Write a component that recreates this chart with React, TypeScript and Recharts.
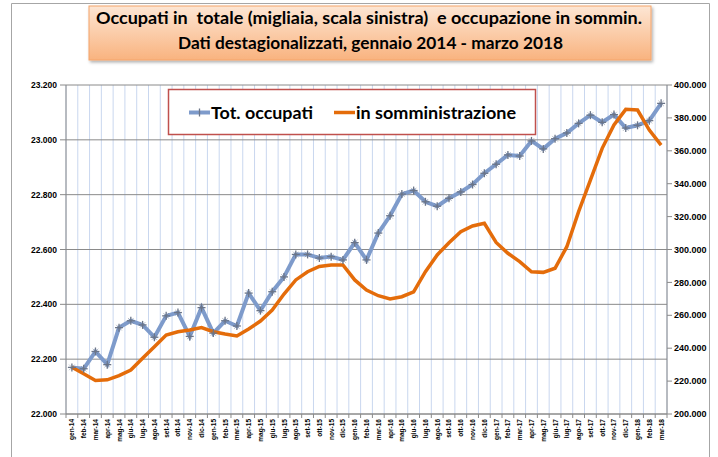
import React from 'react';
import { LineChart, Line, XAxis, YAxis, CartesianGrid } from 'recharts';

const months: string[] = [
  'gen-14', 'feb-14', 'mar-14', 'apr-14', 'mag-14', 'giu-14', 'lug-14', 'ago-14', 'set-14', 'ott-14', 'nov-14', 'dic-14',
  'gen-15', 'feb-15', 'mar-15', 'apr-15', 'mag-15', 'giu-15', 'lug-15', 'ago-15', 'set-15', 'ott-15', 'nov-15', 'dic-15',
  'gen-16', 'feb-16', 'mar-16', 'apr-16', 'mag-16', 'giu-16', 'lug-16', 'ago-16', 'set-16', 'ott-16', 'nov-16', 'dic-16',
  'gen-17', 'feb-17', 'mar-17', 'apr-17', 'mag-17', 'giu-17', 'lug-17', 'ago-17', 'set-17', 'ott-17', 'nov-17', 'dic-17',
  'gen-18', 'feb-18', 'mar-18',
];

// Occupati totali (migliaia) - scala sinistra
const totOccupati: number[] = [
  22170, 22165, 22228, 22180, 22315, 22340, 22325, 22280, 22358, 22370, 22283, 22388,
  22295, 22340, 22321, 22441, 22377, 22446, 22500, 22582, 22582, 22569, 22574, 22562,
  22625, 22562, 22660, 22723, 22802, 22815, 22774, 22758, 22787, 22810, 22837, 22878,
  22911, 22945, 22941, 22996, 22967, 23004, 23025, 23060, 23090, 23064, 23092, 23043,
  23053, 23070, 23133,
];

// Occupati in somministrazione - scala destra
const somministrazione: number[] = [
  228400, 224500, 220400, 220800, 223300, 226700, 233900, 240900, 248000, 250000, 251100, 252500,
  250000, 248600, 247400, 251700, 256500, 263200, 272900, 281500, 286500, 289700, 290600, 290600,
  281500, 275400, 271900, 269900, 271300, 274300, 286500, 296700, 304100, 310800, 314300, 315900,
  304300, 297700, 292600, 286500, 286100, 288600, 301700, 323000, 342200, 361500, 375700, 385200,
  384800, 372600, 363500,
];

const leftTicks: number[] = [22000, 22200, 22400, 22600, 22800, 23000, 23200];
const rightTicks: number[] = [200000, 220000, 240000, 260000, 280000, 300000, 320000, 340000, 360000, 380000, 400000];

const titleLine1 = 'Occupati in  totale (migliaia, scala sinistra)  e occupazione in sommin.';
const titleLine2 = 'Dati destagionalizzati, gennaio 2014 - marzo 2018';
const legendTot = 'Tot. occupati';
const legendSomm = 'in somministrazione';

const data = months.map((m, i) => ({ month: m, tot: totOccupati[i], somm: somministrazione[i] }));

const W = 718;
const H = 457;
const LEFT_W = 66;
const RIGHT_W = 51;
const TOP = 85;
const XAXIS_H = 43;
const PLOT_W = W - LEFT_W - RIGHT_W;
const N = months.length;
const STEP = PLOT_W / N;

const fmt = (v: number) => String(v).replace(/\B(?=(\d{3})+(?!\d))/g, '.');

const GRAY = '#8a8a8a';
const BLUE = '#7E9BCB';
const ORANGE = '#E46C0A';
const tickFont = "'Liberation Sans', Arial, sans-serif";
const titleFont = "Lato, 'Open Sans', sans-serif";

const XTick = (props: any) => {
  const { x, y, payload, index } = props;
  return (
    <g>
      <line x1={x - STEP / 2} x2={x - STEP / 2} y1={y - 4} y2={y} stroke={GRAY} strokeWidth={1} />
      {index === N - 1 && (
        <line x1={x + STEP / 2} x2={x + STEP / 2} y1={y - 4} y2={y} stroke={GRAY} strokeWidth={1} />
      )}
      <text
        x={x}
        y={y + 1}
        transform={`rotate(-90, ${x}, ${y + 1})`}
        textAnchor="end"
        dominantBaseline="central"
        fontSize={6.5}
        fontWeight="bold"
        fontFamily={tickFont}
        fill="#000"
      >
        {payload.value}
      </text>
    </g>
  );
};

const StarDot = (props: any) => {
  const { cx, cy } = props;
  if (cx == null || cy == null) return null;
  return (
    <g>
      <line x1={cx - 4} x2={cx + 4} y1={cy} y2={cy} stroke="#6b7588" strokeWidth={1.3} />
      <line x1={cx} x2={cx} y1={cy - 4} y2={cy + 4} stroke="#6b7588" strokeWidth={1.3} />
      <line x1={cx - 2.8} x2={cx + 2.8} y1={cy - 2.8} y2={cy + 2.8} stroke="#6b7588" strokeWidth={0.8} opacity={0.6} />
      <line x1={cx - 2.8} x2={cx + 2.8} y1={cy + 2.8} y2={cy - 2.8} stroke="#6b7588" strokeWidth={0.8} opacity={0.6} />
    </g>
  );
};

const vGen = (p: any) => {
  const off = p && p.offset ? p.offset : { left: LEFT_W, width: PLOT_W };
  const arr: number[] = [];
  for (let k = 0; k <= N; k++) arr.push(off.left + (k * off.width) / N);
  return arr;
};

export default function App() {
  return (
    <div style={{ position: 'absolute', left: 0, top: 0, width: W, height: H, background: '#fff', overflow: 'hidden' }}>
      <LineChart width={W} height={H} data={data} margin={{ top: TOP, right: 0, bottom: 0, left: 0 }}>
        <CartesianGrid
          yAxisId="left"
          horizontal={false}
          vertical={true}
          stroke="#c9d7ef"
          strokeWidth={1}
          verticalCoordinatesGenerator={vGen}
        />
        <CartesianGrid yAxisId="left" horizontal={true} vertical={false} stroke={GRAY} strokeWidth={1} />
        <XAxis
          dataKey="month"
          interval={0}
          height={XAXIS_H}
          padding={{ left: STEP / 2, right: STEP / 2 }}
          axisLine={{ stroke: GRAY }}
          tickLine={false}
          tickSize={4}
          tickMargin={0}
          tick={<XTick />}
        />
        <YAxis
          yAxisId="left"
          width={LEFT_W}
          domain={[22000, 23200]}
          ticks={leftTicks}
          tickFormatter={fmt}
          axisLine={{ stroke: GRAY }}
          tickLine={{ stroke: GRAY }}
          tickSize={6}
          tickMargin={3}
          tick={{ fontSize: 8.5, fontWeight: 'bold', fill: '#000', fontFamily: tickFont }}
          interval={0}
        />
        <YAxis
          yAxisId="right"
          orientation="right"
          width={RIGHT_W}
          domain={[200000, 400000]}
          ticks={rightTicks}
          tickFormatter={fmt}
          axisLine={{ stroke: GRAY }}
          tickLine={{ stroke: GRAY }}
          tickSize={5}
          tickMargin={2}
          tick={{ fontSize: 9, fontWeight: 'bold', fill: '#000', fontFamily: tickFont }}
          interval={0}
        />
        <Line
          yAxisId="left"
          dataKey="tot"
          type="linear"
          stroke={BLUE}
          strokeWidth={4}
          dot={<StarDot />}
          activeDot={false}
          isAnimationActive={false}
        />
        <Line
          yAxisId="right"
          dataKey="somm"
          type="linear"
          stroke={ORANGE}
          strokeWidth={3.5}
          dot={false}
          activeDot={false}
          isAnimationActive={false}
        />
      </LineChart>
      <svg width={W} height={H} style={{ position: 'absolute', left: 0, top: 0, pointerEvents: 'none' }}>
        <defs>
          <linearGradient id="titleGrad" x1="0" y1="0" x2="0" y2="1">
            <stop offset="0%" stopColor="#fde6d4" />
            <stop offset="100%" stopColor="#f9b37f" />
          </linearGradient>
          <filter id="shadow" x="-5%" y="-20%" width="110%" height="150%">
            <feDropShadow dx="1.5" dy="2" stdDeviation="1.5" floodColor="#000" floodOpacity="0.3" />
          </filter>
        </defs>
        {/* outer frame */}
        <path d={`M11.5 ${H} L11.5 3.5 L709.5 3.5 L709.5 ${H}`} fill="none" stroke="#a6a6a6" strokeWidth={1} />
        {/* title */}
        <rect x={89} y={6} width={562} height={54} fill="url(#titleGrad)" stroke="#f4a46a" strokeWidth={1} filter="url(#shadow)" />
        <text x={96} y={24} fontFamily={titleFont} fontWeight="bold" fontSize={17} fill="#000" textLength={546} lengthAdjust="spacingAndGlyphs" style={{ whiteSpace: 'pre' }}>
          {titleLine1}
        </text>
        <text x={178} y={49} fontFamily={titleFont} fontWeight="bold" fontSize={17} fill="#000" textLength={385} lengthAdjust="spacingAndGlyphs">
          {titleLine2}
        </text>
        {/* legend */}
        <rect x={168.5} y={89.5} width={367} height={45} fill="#fff" stroke="#c0504d" strokeWidth={1.5} />
        <line x1={189} x2={210} y1={112.5} y2={112.5} stroke={BLUE} strokeWidth={4} />
        <line x1={199.5} x2={199.5} y1={108.5} y2={116.5} stroke="#6b7588" strokeWidth={1.3} />
        <text x={211} y={118.5} fontFamily={titleFont} fontWeight="bold" fontSize={17} fill="#000" textLength={102} lengthAdjust="spacingAndGlyphs">
          {legendTot}
        </text>
        <line x1={334} x2={355} y1={112.5} y2={112.5} stroke={ORANGE} strokeWidth={3.5} />
        <text x={356} y={118.5} fontFamily={titleFont} fontWeight="bold" fontSize={17} fill="#000" textLength={160} lengthAdjust="spacingAndGlyphs">
          {legendSomm}
        </text>
      </svg>
    </div>
  );
}
